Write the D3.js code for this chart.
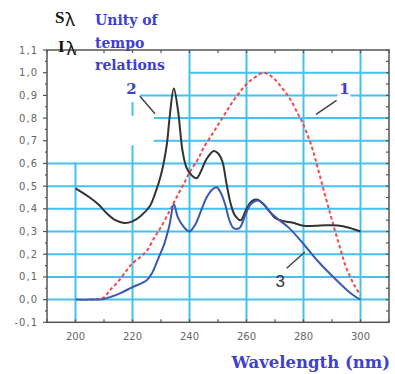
<!DOCTYPE html>
<html>
<head>
<meta charset="utf-8">
<script src="https://cdn.jsdelivr.net/npm/d3@7"></script>
<style>
  html, body { margin: 0; padding: 0; background: #fff; }
  svg { display: block; }
</style>
</head>
<body>
<svg id="chart" width="395" height="374"></svg>
<script>
// curve 1: red dashed
const wave1 = [205, 208, 210, 212, 215, 218, 220, 223, 225, 228, 230, 233, 235, 238, 240, 243, 245, 248, 250, 253, 255, 258, 260, 263, 266, 268, 270, 272, 275, 278, 280, 283, 285, 288, 290, 293, 295, 298, 300];
const val1 = [0.0, 0.003, 0.01, 0.04, 0.08, 0.13, 0.16, 0.19, 0.215, 0.28, 0.32, 0.39, 0.44, 0.51, 0.56, 0.62, 0.67, 0.73, 0.77, 0.83, 0.87, 0.92, 0.95, 0.98, 1.0, 0.99, 0.97, 0.94, 0.89, 0.82, 0.77, 0.67, 0.58, 0.44, 0.35, 0.22, 0.14, 0.06, 0.02];

// curve 2: black
const wave2 = [200, 202, 205, 208, 211, 214, 217, 220, 223, 226, 228, 230, 232, 233, 234.5, 236, 237.5, 239, 241, 242.5, 244, 246, 248.5, 250, 251.5, 253, 254.5, 256, 258, 260, 262, 264, 266, 268, 270, 273, 276, 280, 284, 288, 292, 296, 300];
const val2 = [0.49, 0.475, 0.45, 0.42, 0.38, 0.35, 0.338, 0.345, 0.37, 0.41, 0.47, 0.55, 0.68, 0.8, 0.93, 0.83, 0.66, 0.58, 0.545, 0.535, 0.565, 0.62, 0.655, 0.645, 0.61, 0.51, 0.42, 0.37, 0.35, 0.40, 0.435, 0.44, 0.42, 0.39, 0.36, 0.345, 0.34, 0.325, 0.325, 0.328, 0.327, 0.317, 0.30];

// curve 3: blue
const wave3 = [200, 205, 210, 213, 216, 220, 225, 227, 229, 231, 233, 234.5, 236, 238, 240, 242, 244, 246, 248, 249.5, 251, 252.5, 254, 255.5, 257.5, 259.5, 261.5, 264, 266, 268, 271, 275, 280, 285, 290, 295, 298, 300];
const val3 = [0.0, 0.0, 0.003, 0.015, 0.03, 0.055, 0.085, 0.12, 0.18, 0.24, 0.33, 0.42, 0.36, 0.32, 0.30, 0.33, 0.39, 0.45, 0.485, 0.495, 0.47, 0.42, 0.35, 0.315, 0.315, 0.37, 0.42, 0.437, 0.42, 0.39, 0.355, 0.315, 0.245, 0.17, 0.105, 0.045, 0.015, 0.0];

const xTicks = [200, 220, 240, 260, 280, 300];
const yTicks = [-0.1, 0.0, 0.1, 0.2, 0.3, 0.4, 0.5, 0.6, 0.7, 0.8, 0.9, 1.0, 1.1];

// grid pieces in data units (the original grid is drawn in fragments)
const hGrid = [
  {y: 0.0, from: 190}, {y: 0.1, from: 190}, {y: 0.2, from: 190}, {y: 0.3, from: 190},
  {y: 0.4, from: 190}, {y: 0.5, from: 190}, {y: 0.6, from: 190},
  {y: 0.7, from: 227.5}, {y: 0.8, from: 227.5}, {y: 0.9, from: 222.6}, {y: 1.0, from: 240}
];
const vGrid = [
  {x: 200, y0: -0.1, y1: 0.605},
  {x: 220, y0: -0.1, y1: 0.68},
  {x: 220, y0: 0.81, y1: 0.87},
  {x: 240, y0: -0.1, y1: 1.1},
  {x: 260, y0: -0.1, y1: 1.1},
  {x: 280, y0: -0.1, y1: 1.1},
  {x: 300, y0: -0.1, y1: 1.1}
];

const svg = d3.select("#chart");
const x = d3.scaleLinear().domain([190, 310]).range([47, 389]);
const y = d3.scaleLinear().domain([-0.1, 1.1]).range([322.3, 50]);

const gridColor = "#45c1f0";
const axisColor = "#555";

// grid
svg.append("g").selectAll("line").data(hGrid).join("line")
    .attr("x1", d => x(d.from)).attr("x2", x(310))
    .attr("y1", d => y(d.y)).attr("y2", d => y(d.y))
    .style("stroke", gridColor).style("stroke-width", 2);

svg.append("g").selectAll("line").data(vGrid).join("line")
    .attr("x1", d => x(d.x)).attr("x2", d => x(d.x))
    .attr("y1", d => y(d.y0)).attr("y2", d => y(d.y1))
    .style("stroke", gridColor).style("stroke-width", 2);

// frame with ticks on all sides
const minorX = d3.range(190, 311, 10);
const minorY = d3.range(-0.1, 1.1001, 0.05);

svg.append("rect")
    .attr("x", x(190)).attr("y", y(1.1))
    .attr("width", x(310) - x(190)).attr("height", y(-0.1) - y(1.1))
    .style("fill", "none").style("stroke", axisColor).style("stroke-width", 1.5);

const ticks = svg.append("g").style("stroke", axisColor).style("stroke-width", 1.2);
minorX.forEach(v => {
    ticks.append("line").attr("x1", x(v)).attr("x2", x(v)).attr("y1", y(-0.1)).attr("y2", y(-0.1) - 3);
    ticks.append("line").attr("x1", x(v)).attr("x2", x(v)).attr("y1", y(1.1)).attr("y2", y(1.1) + 3);
});
minorY.forEach((v, i) => {
    let major = i % 2 === 0;
    ticks.append("line").attr("x1", x(190)).attr("x2", x(190) - (major ? 4 : 2)).attr("y1", y(v)).attr("y2", y(v));
    ticks.append("line").attr("x1", x(310)).attr("x2", x(310) - 3).attr("y1", y(v)).attr("y2", y(v));
});

// tick labels
svg.append("g").selectAll("text").data(yTicks).join("text")
    .attr("x", 38).attr("y", d => y(d) + 3.5)
    .attr("text-anchor", "end")
    .style("font-family", "DejaVu Sans").style("font-size", "10px")
    .style("letter-spacing", "1px")
    .style("fill", "#666")
    .text(d => d3.format(".1f")(d).replace(".", ",").replace("−", "-"));

svg.append("g").selectAll("text").data(xTicks).join("text")
    .attr("x", d => x(d)).attr("y", 340)
    .attr("text-anchor", "middle")
    .style("font-family", "DejaVu Sans").style("font-size", "10px")
    .style("fill", "#666")
    .text(d => d);

// curves
const line = d3.line()
    .x(d => x(d[0]))
    .y(d => y(d[1]))
    .curve(d3.curveCatmullRom.alpha(0.5));

svg.append("path")
    .datum(d3.zip(wave1, val1))
    .attr("d", line)
    .style("fill", "none").style("stroke", "#f04a4a")
    .style("stroke-width", 2).style("stroke-dasharray", "3.5,2.5");

svg.append("path")
    .datum(d3.zip(wave2, val2))
    .attr("d", line)
    .style("fill", "none").style("stroke", "#333")
    .style("stroke-width", 2);

svg.append("path")
    .datum(d3.zip(wave3, val3))
    .attr("d", line)
    .style("fill", "none").style("stroke", "#3c5aae")
    .style("stroke-width", 2);

// annotations
const blue = "#4040d0";

svg.append("rect")
    .attr("x", x(291.6) + 1).attr("y", y(0.96))
    .attr("width", 13).attr("height", 18)
    .style("fill", "#fff");

svg.append("text")
    .attr("x", x(219.6)).attr("y", y(0.904))
    .attr("text-anchor", "middle")
    .style("font-family", "DejaVu Serif").style("font-weight", "bold")
    .style("font-size", "15px").style("fill", blue)
    .text("2");

svg.append("text")
    .attr("x", x(294.4)).attr("y", y(0.904))
    .attr("text-anchor", "middle")
    .style("font-family", "DejaVu Serif").style("font-weight", "bold")
    .style("font-size", "15px").style("fill", blue)
    .text("1");

svg.append("text")
    .attr("x", x(271.8)).attr("y", y(0.054))
    .attr("text-anchor", "middle")
    .style("font-family", "Liberation Sans")
    .style("font-size", "17px").style("fill", "#333")
    .text("3");

const pointers = [
    [222.6, 0.896, 227.9, 0.819],
    [291.6, 0.878, 284.4, 0.816],
    [274.1, 0.138, 280.5, 0.21]
];
svg.append("g").selectAll("line").data(pointers).join("line")
    .attr("x1", d => x(d[0])).attr("y1", d => y(d[1]))
    .attr("x2", d => x(d[2])).attr("y2", d => y(d[3]))
    .style("stroke", "#444").style("stroke-width", 1.5);

// titles
const sTitle = svg.append("g")
    .style("font-family", "Liberation Serif").style("font-weight", "bold")
    .style("fill", "#111");
let s1 = sTitle.append("text").attr("x", 55).attr("y", 23).style("font-size", "17px");
s1.append("tspan").text("S");
s1.append("tspan").attr("dy", 3).attr("dx", 1)
    .style("font-family", "Noto Sans").style("font-weight", "normal").style("font-size", "18px").text("λ");
let s2 = sTitle.append("text").attr("x", 58).attr("y", 52).style("font-size", "17px");
s2.append("tspan").text("I");
s2.append("tspan").attr("dy", 3).attr("dx", 2)
    .style("font-family", "Noto Sans").style("font-weight", "normal").style("font-size", "18px").text("λ");

const note = svg.append("text")
    .style("font-family", "DejaVu Serif").style("font-weight", "bold")
    .style("font-size", "14px").style("fill", blue);
["Unity of", "tempo", "relations"].forEach((t, i) => {
    note.append("tspan").attr("x", 95).attr("y", 25 + i * 22.5).text(t);
});

svg.append("text")
    .attr("x", 390).attr("y", 368)
    .attr("text-anchor", "end")
    .style("font-family", "DejaVu Serif").style("font-weight", "bold")
    .style("font-size", "16.5px").style("fill", blue)
    .text("Wavelength (nm)");
</script>
</body>
</html>
